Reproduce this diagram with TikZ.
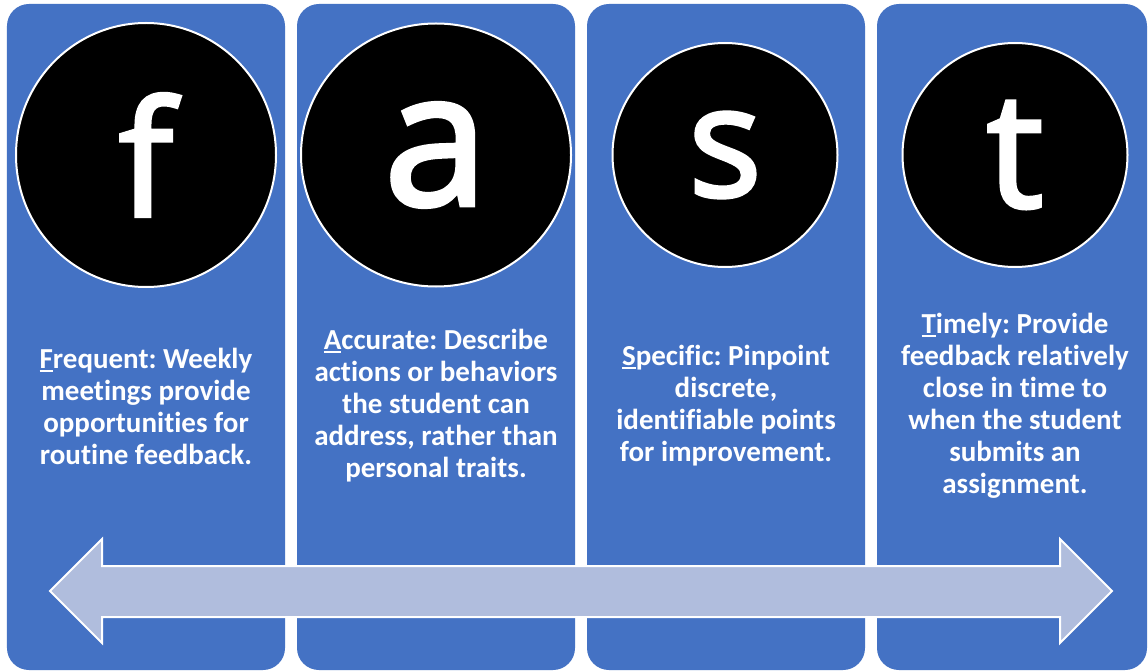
\documentclass[tikz,border=0pt]{standalone}
\usepackage{fontspec}
\setmainfont{Carlito}[Ligatures={NoCommon}]
\newfontfamily\letterfont[FakeBold=2.5]{Open Sans}
\usetikzlibrary{shapes.geometric}
\definecolor{colblue}{HTML}{4472C4}
\definecolor{arrowfill}{HTML}{B0BDDD}
\newcommand\ulfirst[1]{\setbox0\hbox{#1}\rlap{\rule[-3.5bp]{\wd0}{2bp}}#1}
\frenchspacing
\tikzset{
  colbox/.style={fill=colblue, rounded corners=22bp, minimum width=278bp, minimum height=666bp, inner sep=0pt},
  disc/.style={ellipse, fill=black, draw=white, line width=2bp, inner sep=0pt},
  desc/.style={text=white, align=center, font=\bfseries\fontsize{29bp}{32bp}\selectfont, inner sep=0pt},
  glyph/.style={text=white}
}
\begin{document}
\begin{tikzpicture}[x=1bp,y=-1bp]
\useasboundingbox (0,0) rectangle (1148,671);
\fill[white] (0,0) rectangle (1148,671);
% columns
\node[colbox] (c1) at (146,337) {};
\node[colbox] (c2) at (436,337) {};
\node[colbox] (c3) at (726,337) {};
\node[colbox, minimum width=270bp] (c4) at (1012,337) {};
% circles
\node[disc, minimum width=260bp, minimum height=264bp] (k1) at (146,155) {\letterfont\fontsize{160bp}{160bp}\selectfont\color{white}f};
\node[disc, minimum width=270bp, minimum height=263bp] (k2) at (436,155) {\letterfont\fontsize{187bp}{187bp}\selectfont\color{white}a};
\node[disc, minimum width=225bp, minimum height=224bp] (k3) at (725,155) {\letterfont\fontsize{154bp}{154bp}\selectfont\color{white}s};
\node[disc, minimum width=225bp, minimum height=224bp] (k4) at (1015,155) {\letterfont\fontsize{160bp}{160bp}\selectfont\color{white}t};
% descriptions
\node[desc] (d1) at (146,406) {\ulfirst{F}requent: Weekly\\meetings provide\\opportunities for\\routine feedback.};
\node[desc] (d2) at (436,406) {\ulfirst{A}ccurate: Describe\\actions or behaviors\\the student can\\address, rather than\\personal traits.};
\node[desc] (d3) at (726,406) {\ulfirst{S}pecific: Pinpoint\\discrete,\\identifiable points\\for improvement.};
\node[desc] (d4) at (1015,406) {\ulfirst{T}imely: Provide\\feedback relatively\\close in time to\\when the student\\submits an\\assignment.};
% double arrow
\filldraw[fill=arrowfill, draw=white, line width=2bp, line join=miter]
  (50,591) -- (102,539) -- (102,566) -- (1060,566) -- (1060,539) -- (1112,591)
  -- (1060,643) -- (1060,617) -- (102,617) -- (102,643) -- cycle;
\end{tikzpicture}
\end{document}
